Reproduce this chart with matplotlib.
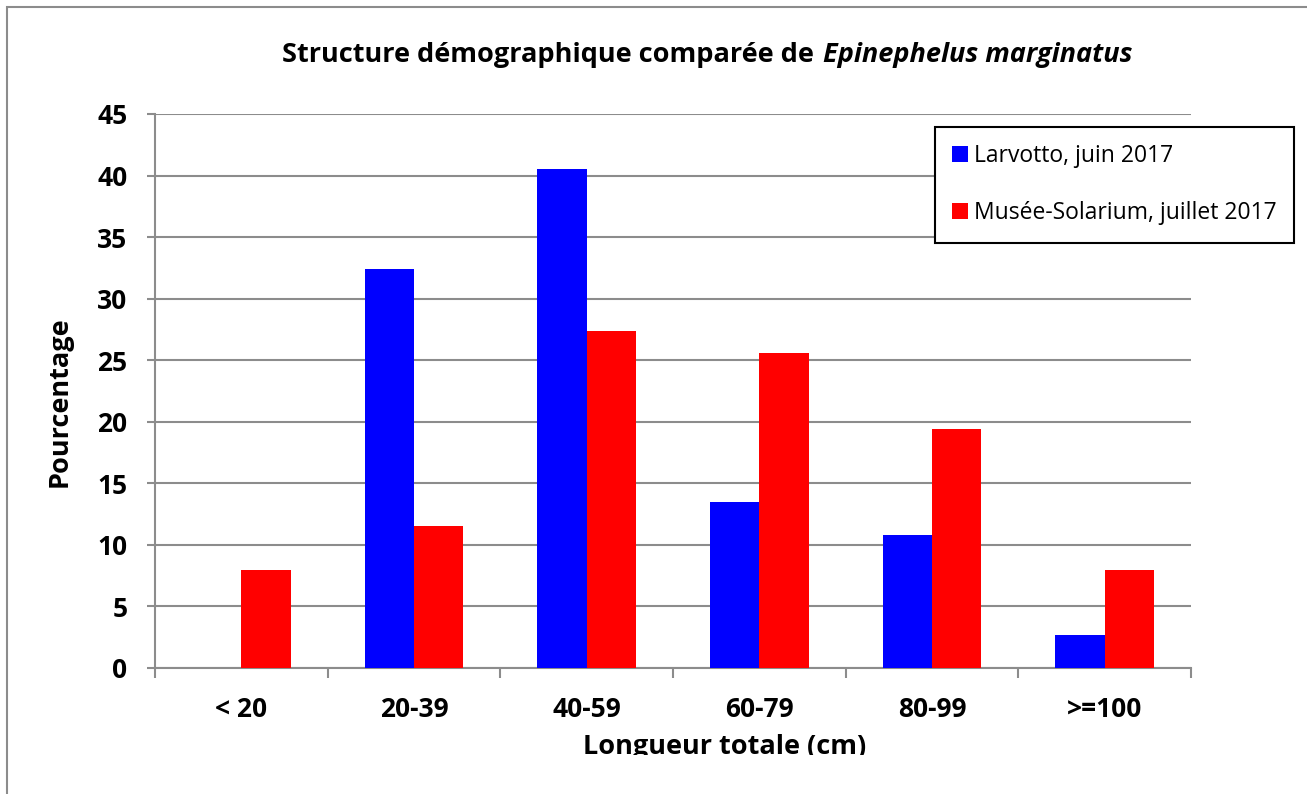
import numpy as np
import matplotlib
matplotlib.use("Agg")
import matplotlib.pyplot as plt
from matplotlib.patches import Rectangle
from matplotlib.transforms import Bbox, TransformedBbox

plt.rcParams['font.family'] = ['Open Sans', 'DejaVu Sans']

categories = ['< 20', '20-39', '40-59', '60-79', '80-99', '>=100']
larvotto = [0, 32.4, 40.5, 13.5, 10.8, 2.7]
musee = [8.0, 11.5, 27.4, 25.6, 19.4, 8.0]
series_names = ['Larvotto, juin 2017', 'Musée-Solarium, juillet 2017']

W, H = 1307, 794
fig = plt.figure(figsize=(W / 100, H / 100), dpi=100)
ax = fig.add_axes([155 / W, 1 - 668 / H, (1191 - 155) / W, (668 - 114) / H])

# outer chart frame (runs off right/bottom of the picture)
fig.patches.append(Rectangle((7 / W, -0.1), 1.2, 1 - 7 / H + 0.1, transform=fig.transFigure,
                             fill=False, edgecolor='#8c8c8c', linewidth=1.5))

x = np.arange(len(categories))
bw = 0.2855
ax.bar(x - bw / 2, larvotto, bw, color='#0000ff', label=series_names[0], zorder=3)
ax.bar(x + bw / 2, musee, bw, color='#ff0000', label=series_names[1], zorder=3)

ax.set_xlim(-0.5, 5.5)
ax.set_ylim(0, 45)
ax.set_yticks(np.arange(0, 46, 5))
ax.yaxis.grid(True, color='#8c8c8c', linewidth=1.5, zorder=0)
ax.set_axisbelow(True)

ax.set_xticks(np.arange(-0.5, 6, 1))
ax.set_xticklabels([])
ax.set_xticks(x, minor=True)
ax.set_xticklabels(categories, minor=True, fontsize=19, fontweight='bold')
ax.tick_params(axis='x', which='major', length=7.2, width=1.5, color='#8c8c8c')
ax.tick_params(axis='x', which='minor', length=0, pad=20)
ax.tick_params(axis='y', length=5.8, width=1.5, color='#8c8c8c', pad=14, labelsize=19)
for t in ax.get_yticklabels():
    t.set_fontweight('bold')

for s in ['top', 'right']:
    ax.spines[s].set_visible(False)
for s in ['left', 'bottom']:
    ax.spines[s].set_color('#8c8c8c')
    ax.spines[s].set_linewidth(1.5)

ax.set_ylabel('Pourcentage', fontsize=19.5, fontweight='bold', va='center')
ax.yaxis.set_label_coords((60 - 155) / 1036, (668 - 402) / 554)
ax.set_xlabel('Longueur totale (cm)', fontsize=19.5, fontweight='bold', va='baseline')
ax.xaxis.set_label_coords((725 - 155) / 1036, (668 - 754) / 554)
# the x label is cut at its baseline in the original
clip = TransformedBbox(Bbox([[0, 39 / H], [1, 1]]), fig.transFigure)
ax.xaxis.label.set_clip_box(clip)
ax.xaxis.label.set_clip_on(True)

fig.text(814 / W, 1 - 55 / H, 'Structure démographique comparée de', ha='right', va='center',
         fontsize=19.5, fontweight='bold')
fig.text(823 / W, 1 - 55 / H, 'Epinephelus marginatus', ha='left', va='center',
         fontsize=19.5, fontweight='bold', style='italic')

leg = fig.legend(loc='upper left', bbox_to_anchor=(935 / W, 1 - 127 / H), fontsize=16.5,
                 frameon=True, fancybox=False, edgecolor='black', framealpha=1,
                 handlelength=0.7, handleheight=0.7, handletextpad=0.26, labelspacing=1.45,
                 borderpad=0.75, borderaxespad=0)
leg.get_frame().set_linewidth(1.5)

fig.savefig('out.png', dpi=100)
